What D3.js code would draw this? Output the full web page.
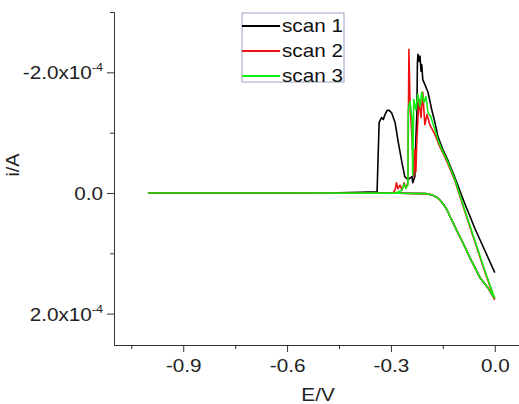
<!DOCTYPE html>
<html lang="en">
<head>
    <meta charset="UTF-8">
    <title>CV scans</title>
    <script src="https://d3js.org/d3.v7.min.js"></script>
    <style>
        body { margin: 0; background: #fff; }
        text { font-family: "Liberation Sans", Arial, sans-serif; }
    </style>
</head>
<body>
    <script>
        // potential in V, current in units of 1e-4 A (negative is drawn upward)
        // shared forward sweep -1.0 -> 0.0
        const lowerE = [-1.0, -0.6, -0.275, -0.2, -0.19, -0.18, -0.168, -0.158, -0.148, -0.138, -0.125, -0.11, -0.09, -0.072, -0.043, -0.02, 0.0];
        const lowerI = [0.0, 0.0, 0.005, 0.01, 0.02, 0.035, 0.07, 0.12, 0.19, 0.28, 0.44, 0.62, 0.85, 1.07, 1.40, 1.57, 1.75];

        // reverse sweeps 0.0 -> -1.0
        const scan1E = [0, -0.029, -0.058, -0.087, -0.115, -0.136, -0.150, -0.164, -0.173, -0.182, -0.193, -0.202, -0.208, -0.211, -0.213, -0.216, -0.219, -0.222, -0.2235, -0.225, -0.228, -0.231, -0.237, -0.239, -0.251, -0.260, -0.268, -0.280, -0.288, -0.298, -0.305, -0.311, -0.317, -0.322, -0.327, -0.334, -0.337, -0.340, -0.389, -0.485, -1.0];
        const scan1I = [1.32, 0.95, 0.58, 0.17, -0.25, -0.55, -0.72, -0.93, -1.17, -1.38, -1.67, -1.80, -1.88, -2.13, -2.02, -2.27, -2.18, -2.30, -2.15, -1.33, -0.88, -0.27, -0.17, -0.27, -0.22, -0.27, -0.50, -0.88, -1.17, -1.33, -1.37, -1.37, -1.30, -1.22, -1.25, -1.17, -0.60, -0.02, -0.01, 0, 0];

        const scan2E = [0, -0.029, -0.058, -0.087, -0.115, -0.138, -0.159, -0.173, -0.1875, -0.196, -0.202, -0.208, -0.213, -0.219, -0.225, -0.228, -0.231, -0.234, -0.239, -0.245, -0.248, -0.251, -0.257, -0.262, -0.268, -0.274, -0.280, -0.284, -0.288, -0.294, -1.0];
        const scan2I = [1.77, 1.30, 0.80, 0.30, -0.20, -0.52, -0.77, -0.97, -1.13, -1.30, -1.13, -1.67, -1.25, -1.55, -0.88, -0.35, -0.72, -0.28, -0.88, -1.55, -2.38, -0.17, -0.08, -0.17, -0.05, -0.13, -0.07, -0.17, -0.05, 0, 0];

        const scan3E = [0, -0.029, -0.058, -0.087, -0.115, -0.138, -0.150, -0.164, -0.173, -0.185, -0.193, -0.199, -0.205, -0.211, -0.216, -0.222, -0.228, -0.234, -0.237, -0.239, -0.245, -0.250, -0.251, -0.257, -0.262, -0.268, -0.277, -0.288, -1.0];
        const scan3I = [1.75, 1.28, 0.78, 0.28, -0.22, -0.55, -0.68, -0.88, -1.05, -1.27, -1.33, -1.60, -1.50, -1.67, -1.43, -1.63, -1.38, -1.55, -0.30, -1.22, -1.52, -1.38, -0.13, -0.08, -0.15, -0.05, -0.02, 0, 0];

        const scanNames = ["scan 1", "scan 2", "scan 3"];
        const scanColors = ["#000000", "#ee1111", "#11ee11"];

        const xTicks = [-0.9, -0.6, -0.3, 0.0];
        const xMinor = [-1.05, -0.75, -0.45, -0.15];
        const yTicks = [-2, 0, 2];
        const yMinor = [-3, -1, 1];
        const yTickBase = ["-2.0x10", "0.0", "2.0x10"];
        const yTickExp = ["-4", "", "-4"];

        const width = 519, height = 404;
        const stretch = "scale(1.15,1)"; // reference text is a bit wide
        const x = d3.scaleLinear().domain([-1.1, 0.07]).range([114, 519]);
        const y = d3.scaleLinear().domain([-3.0, 2.52]).range([12, 345]);

        const svg = d3.select("body").append("svg")
            .attr("width", width)
            .attr("height", height);

        // build each scan: reverse sweep then forward sweep
        const zipUp = (E, I) => E.map((e, k) => [e, I[k]]);
        const lower = zipUp(lowerE, lowerI);
        const scans = [
            zipUp(scan1E, scan1I).concat(lower),
            zipUp(scan2E, scan2I).concat(lower.map((p, k) => [p[0], k === lower.length - 1 ? 1.77 : p[1]])),
            zipUp(scan3E, scan3I).concat(lower)
        ];

        const line = d3.line().x(d => x(d[0])).y(d => y(d[1]));

        svg.selectAll("path.scan").data(scans).enter().append("path")
            .attr("class", "scan")
            .attr("d", line)
            .attr("fill", "none")
            .attr("stroke", (d, i) => scanColors[i])
            .attr("stroke-width", 1.6)
            .attr("stroke-linejoin", "round");

        // axes
        const xAxis = svg.append("g").attr("transform", "translate(0,345)")
            .call(d3.axisBottom(x).tickValues(xTicks).tickFormat(d3.format(".1f"))
                .tickSize(7).tickPadding(7).tickSizeOuter(0));
        svg.append("g").attr("transform", "translate(0,345)")
            .call(d3.axisBottom(x).tickValues(xMinor).tickFormat("").tickSize(4).tickSizeOuter(0));

        svg.append("g").attr("transform", "translate(114,0)")
            .call(d3.axisLeft(y).tickValues(yTicks).tickFormat("").tickSize(7).tickSizeOuter(0));
        svg.append("g").attr("transform", "translate(114,0)")
            .call(d3.axisLeft(y).tickValues(yMinor).tickFormat("").tickSize(4).tickSizeOuter(0));

        svg.selectAll(".domain, .tick line").attr("stroke", "#333");
        xAxis.selectAll("text").attr("font-size", 18).attr("fill", "#222")
            .attr("font-family", "Liberation Sans, Arial, sans-serif")
            .attr("transform", stretch)
            .text(d => d === 0 ? "0.0" : d3.format(".1f")(d).replace("−", "-"));

        // y tick labels with superscript exponent
        const yl = svg.append("g").selectAll("text").data(yTicks).enter().append("text")
            .attr("transform", d => `translate(103,${y(d) + 7}) ${stretch}`)
            .attr("text-anchor", "end")
            .attr("font-size", 18)
            .attr("fill", "#222");
        yl.append("tspan").text((d, i) => yTickBase[i]);
        yl.append("tspan").attr("font-size", 11).attr("dy", -8).text((d, i) => yTickExp[i]);

        // axis titles
        svg.append("text").attr("transform", `translate(318,401) ${stretch}`)
            .attr("text-anchor", "middle").attr("font-size", 18).attr("fill", "#222")
            .text("E/V");
        svg.append("text").attr("transform", "translate(19,165) rotate(-90) scale(1.1,1)")
            .attr("text-anchor", "middle").attr("font-size", 18).attr("fill", "#222")
            .text("i/A");

        // legend
        const legend = svg.append("g");
        legend.append("rect").attr("x", 242).attr("y", 13).attr("width", 102).attr("height", 69)
            .attr("fill", "#fff").attr("stroke", "#a0a0c8").attr("stroke-width", 1);
        scanNames.forEach((name, i) => {
            const ly = 26 + i * 25;
            legend.append("line").attr("x1", 242).attr("x2", 280).attr("y1", ly).attr("y2", ly)
                .attr("stroke", scanColors[i]).attr("stroke-width", 2);
            legend.append("text").attr("transform", `translate(282,${ly + 6}) ${stretch}`)
                .attr("font-size", 18).attr("fill", "#111").text(name);
        });
    </script>
</body>
</html>
